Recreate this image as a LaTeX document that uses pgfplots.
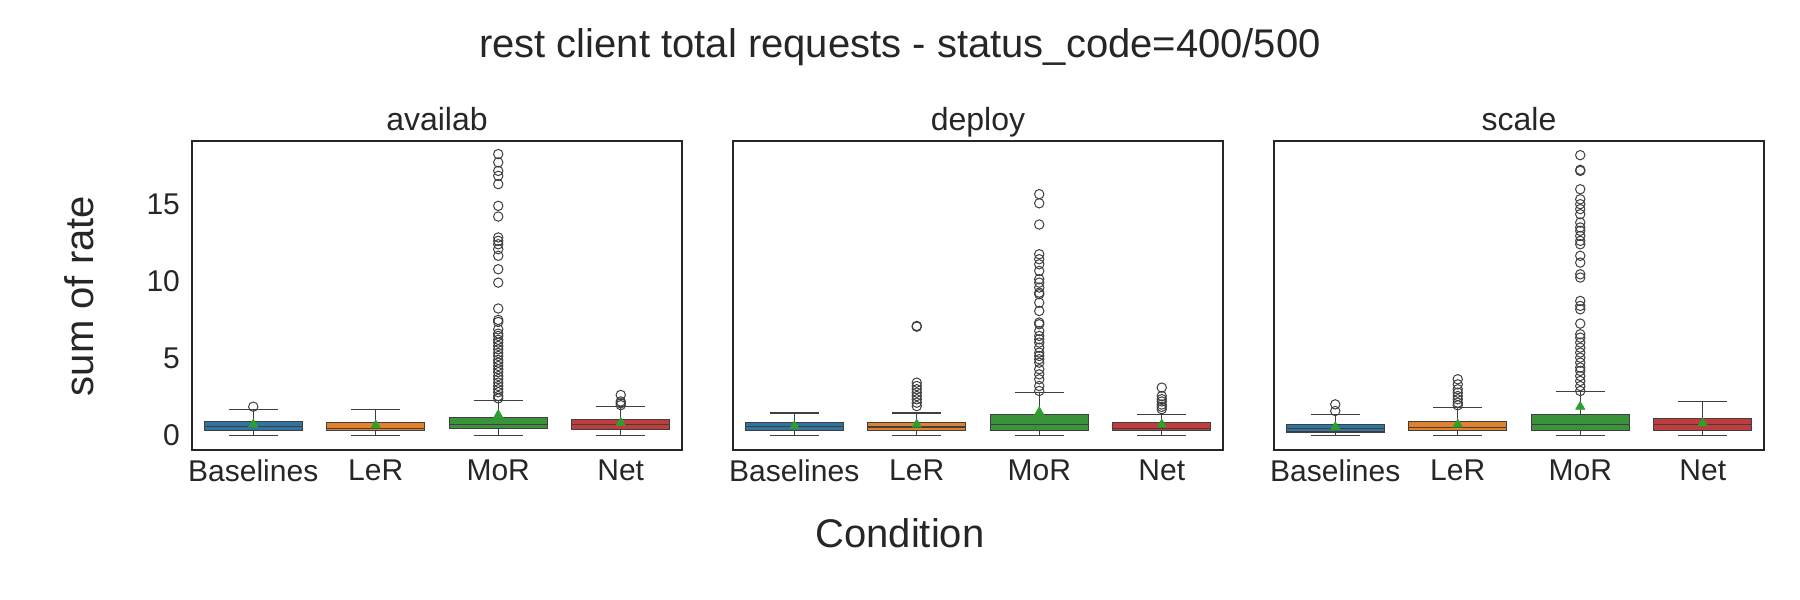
\documentclass[border=0pt]{standalone}
\usepackage{fontspec}
\setmainfont{Liberation Sans}
\usepackage{pgfplots}
\pgfplotsset{compat=1.18}
\usepgfplotslibrary{statistics}
\definecolor{cB}{HTML}{3274A1}
\definecolor{cL}{HTML}{E1812C}
\definecolor{cM}{HTML}{3A923A}
\definecolor{cN}{HTML}{C03D3E}
\definecolor{edge}{HTML}{3F3F3F}
\definecolor{txt}{HTML}{262626}
\definecolor{meanc}{HTML}{2CA02C}

\tikzset{ptitle/.style={anchor=base, text=txt, font=\fontsize{16}{19}\selectfont, yshift=5pt}}

\pgfplotsset{
  panel/.style={
    at={(#1,75pt)}, anchor=south west, scale only axis,
    width=245pt, height=154.5pt,
    xmin=-0.5, xmax=3.5, ymin=-0.95, ymax=19.1,
    xtick={0,1,2,3}, xticklabels={Baselines,LeR,MoR,Net},
    ytick={0,5,10,15},
    major tick length=0pt,
    axis line style={txt, line width=0.85pt},
    tick label style={font=\fontsize{15}{18}\selectfont, text=txt},
    xticklabel style={yshift=-1.5pt},
    yticklabel style={xshift=-2.5pt},
    /pgf/number format/assume math mode=true,
    boxplot/draw direction=y,
    boxplot/box extend=0.8,
    boxplot/whisker extend=0.4,
    clip=false,
  },
  bx/.style={draw=edge, line width=0.6pt, solid, mark=none},
  outl/.style={only marks, mark=o, mark size=2.35pt, draw=edge, line width=0.5pt},
  meanm/.style={only marks, mark=triangle*, mark size=2.6pt, color=meanc},
}

\begin{document}
\begin{tikzpicture}
\path[use as bounding box] (0,0) rectangle (900pt,300pt);

% ---------------- availab ----------------
\begin{axis}[panel=96pt]
\addplot[bx, fill=cB, boxplot prepared={draw position=0, lower whisker=0, lower quartile=0.30, median=0.56, upper quartile=0.89, upper whisker=1.69}] coordinates {};
\addplot[bx, fill=cL, boxplot prepared={draw position=1, lower whisker=0, lower quartile=0.30, median=0.47, upper quartile=0.86, upper whisker=1.69}] coordinates {};
\addplot[bx, fill=cM, boxplot prepared={draw position=2, lower whisker=0, lower quartile=0.43, median=0.71, upper quartile=1.15, upper whisker=2.27}] coordinates {};
\addplot[bx, fill=cN, boxplot prepared={draw position=3, lower whisker=0, lower quartile=0.39, median=0.69, upper quartile=1.04, upper whisker=1.88}] coordinates {};
\addplot[outl] coordinates {
(0,1.86)
(2,18.25) (2,17.71) (2,17.16) (2,16.84) (2,16.30) (2,14.89) (2,14.20) (2,12.84) (2,12.62) (2,12.40)
(2,12.08) (2,11.65) (2,10.78) (2,9.91) (2,8.23) (2,7.49) (2,7.36) (2,6.88) (2,6.60) (2,6.45)
(2,6.20) (2,6.02) (2,5.80) (2,5.58) (2,5.35) (2,5.15) (2,4.90) (2,4.72) (2,4.50) (2,4.29)
(2,4.10) (2,3.85) (2,3.65) (2,3.42) (2,3.20) (2,2.99) (2,2.80) (2,2.55) (2,2.40)
(3,2.62) (3,2.20) (3,2.08) (3,1.96)
};
\addplot[meanm] coordinates {(0,0.71) (1,0.65) (2,1.32) (3,0.82)};
\node[ptitle] at (rel axis cs:0.5,1) {availab};
\end{axis}

% ---------------- deploy ----------------
\begin{axis}[panel=366.5pt, yticklabels={}]
\addplot[bx, fill=cB, boxplot prepared={draw position=0, lower whisker=0, lower quartile=0.30, median=0.56, upper quartile=0.82, upper whisker=1.45}] coordinates {};
\addplot[bx, fill=cL, boxplot prepared={draw position=1, lower whisker=0, lower quartile=0.30, median=0.54, upper quartile=0.86, upper whisker=1.45}] coordinates {};
\addplot[bx, fill=cM, boxplot prepared={draw position=2, lower whisker=0, lower quartile=0.30, median=0.69, upper quartile=1.34, upper whisker=2.77}] coordinates {};
\addplot[bx, fill=cN, boxplot prepared={draw position=3, lower whisker=0, lower quartile=0.30, median=0.47, upper quartile=0.82, upper whisker=1.34}] coordinates {};
\addplot[outl] coordinates {
(1,7.10) (1,7.05) (1,3.42) (1,3.20) (1,2.99) (1,2.77) (1,2.55) (1,2.34) (1,2.12) (1,1.90)
(2,15.65) (2,15.06) (2,13.68) (2,11.75) (2,11.43) (2,11.10) (2,10.67) (2,10.13) (2,9.91) (2,9.59)
(2,9.26) (2,9.16) (2,8.61) (2,8.07) (2,7.32) (2,7.21) (2,6.77) (2,6.45) (2,6.23) (2,6.02)
(2,5.69) (2,5.37) (2,5.15) (2,4.94) (2,4.72) (2,4.29) (2,3.96) (2,3.64) (2,3.20) (2,2.88)
(3,3.10) (3,2.55) (3,2.35) (3,2.20) (3,2.00) (3,1.85) (3,1.70)
};
\addplot[meanm] coordinates {(0,0.60) (1,0.71) (2,1.51) (3,0.71)};
\node[ptitle] at (rel axis cs:0.5,1) {deploy};
\end{axis}

% ---------------- scale ----------------
\begin{axis}[panel=637pt, yticklabels={}]
\addplot[bx, fill=cB, boxplot prepared={draw position=0, lower whisker=0, lower quartile=0.22, median=0.47, upper quartile=0.69, upper whisker=1.36}] coordinates {};
\addplot[bx, fill=cL, boxplot prepared={draw position=1, lower whisker=0, lower quartile=0.30, median=0.49, upper quartile=0.89, upper whisker=1.82}] coordinates {};
\addplot[bx, fill=cM, boxplot prepared={draw position=2, lower whisker=0, lower quartile=0.30, median=0.69, upper quartile=1.34, upper whisker=2.84}] coordinates {};
\addplot[bx, fill=cN, boxplot prepared={draw position=3, lower whisker=0, lower quartile=0.30, median=0.69, upper quartile=1.08, upper whisker=2.19}] coordinates {};
\addplot[outl] coordinates {
(0,2.01) (0,1.58)
(1,3.64) (1,3.31) (1,2.99) (1,2.77) (1,2.55) (1,2.34) (1,2.12) (1,1.95)
(2,18.18) (2,17.23) (2,17.16) (2,15.97) (2,15.32) (2,15.00) (2,14.68) (2,14.35) (2,13.81) (2,13.49)
(2,13.27) (2,12.94) (2,12.62) (2,12.40) (2,11.65) (2,11.21) (2,10.45) (2,10.24) (2,8.72) (2,8.40)
(2,8.18) (2,7.25) (2,6.56) (2,6.34) (2,6.02) (2,5.69) (2,5.37) (2,5.04) (2,4.72) (2,4.40)
(2,4.18) (2,3.85) (2,3.53) (2,3.20) (2,2.88)
};
\addplot[meanm] coordinates {(0,0.54) (1,0.71) (2,1.86) (3,0.78)};
\node[ptitle] at (rel axis cs:0.5,1) {scale};
\end{axis}

\node[anchor=base, text=txt, font=\fontsize{20}{24}\selectfont] at (450pt,271pt) {rest client total requests - status\_code=400/500};
\node[anchor=base, text=txt, font=\fontsize{20}{24}\selectfont] at (450pt,26pt) {Condition};
\node[anchor=base, rotate=90, text=txt, font=\fontsize{20}{24}\selectfont] at (46.5pt,152pt) {sum of rate};
\end{tikzpicture}
\end{document}
